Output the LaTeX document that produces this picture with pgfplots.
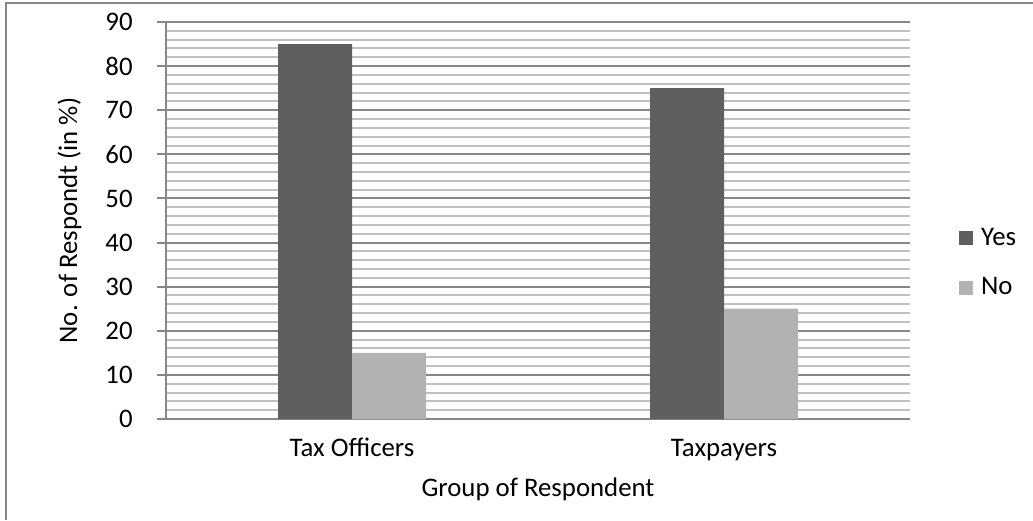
\documentclass[border=0pt]{standalone}
\usepackage{fontspec}
\setmainfont{Carlito}
\usepackage{pgfplots}
\pgfplotsset{compat=1.18}
\definecolor{yescol}{HTML}{5F5F5F}
\definecolor{nocol}{HTML}{B2B2B2}
\definecolor{axgray}{HTML}{878787}
\definecolor{mingray}{HTML}{C0C0C0}
\begin{document}
\begin{tikzpicture}
\path[use as bounding box] (-83pt,-50.5pt) rectangle (433.5pt,209.5pt);
\draw[axgray, line width=1pt] (-80pt,-50.5pt) -- (-80pt,208pt) -- (433.5pt,208pt);
\begin{axis}[
  at={(0,0)}, anchor=south west,
  scale only axis,
  width=372pt, height=198.5pt,
  font=\fontsize{13.4}{16}\selectfont,
  /pgf/number format/assume math mode=true,
  ybar=0pt, bar width=37pt,
  xmin=-0.5, xmax=1.5,
  ymin=0, ymax=90,
  xtick={0,1},
  xticklabels={Tax Officers, Taxpayers},
  ytick={0,10,...,90},
  minor y tick num=4,
  ymajorgrids, yminorgrids,
  major grid style={axgray, line width=1pt},
  minor grid style={mingray, line width=1pt},
  axis x line*=bottom, axis y line*=left,
  axis line style={axgray, line width=1pt, -},
  x axis line style={-},
  y axis line style={-},
  xtick style={draw=none},
  ytick style={axgray, line width=1pt},
  tick align=outside,
  major tick length=4.5pt,
  minor tick length=0pt,
  yticklabel style={anchor=east, inner sep=0pt, xshift=-12pt},
  xticklabel style={anchor=north, inner sep=0pt, text height=9pt, text depth=3pt, yshift=-5pt},
  xlabel={Group of Respondent},
  ylabel={No. of Respondt (in \%)},
  xlabel style={at={(axis description cs:0.5,0)}, anchor=north, inner sep=0pt, text height=9pt, text depth=3pt, yshift=-29.5pt},
  ylabel style={at={(axis description cs:-0.1196,0.5)}, anchor=base, inner sep=0pt},
  legend style={at={(axis description cs:1.066,0.393)}, anchor=west, draw=none, fill=none,
    inner sep=0pt, outer sep=0pt, row sep=14.8pt, column sep=4pt,
    nodes={inner sep=0pt, anchor=west},
    font=\fontsize{13.4}{16}\selectfont},
  legend image code/.code={\fill[#1] (0pt,-3.5pt) rectangle (7pt,3.5pt);},
  legend cell align=left,
]
\addplot[fill=yescol, draw=none] coordinates {(0,85) (1,75)};
\addplot[fill=nocol, draw=none] coordinates {(0,15) (1,25)};
\legend{Yes, No}
\end{axis}
\end{tikzpicture}
\end{document}
